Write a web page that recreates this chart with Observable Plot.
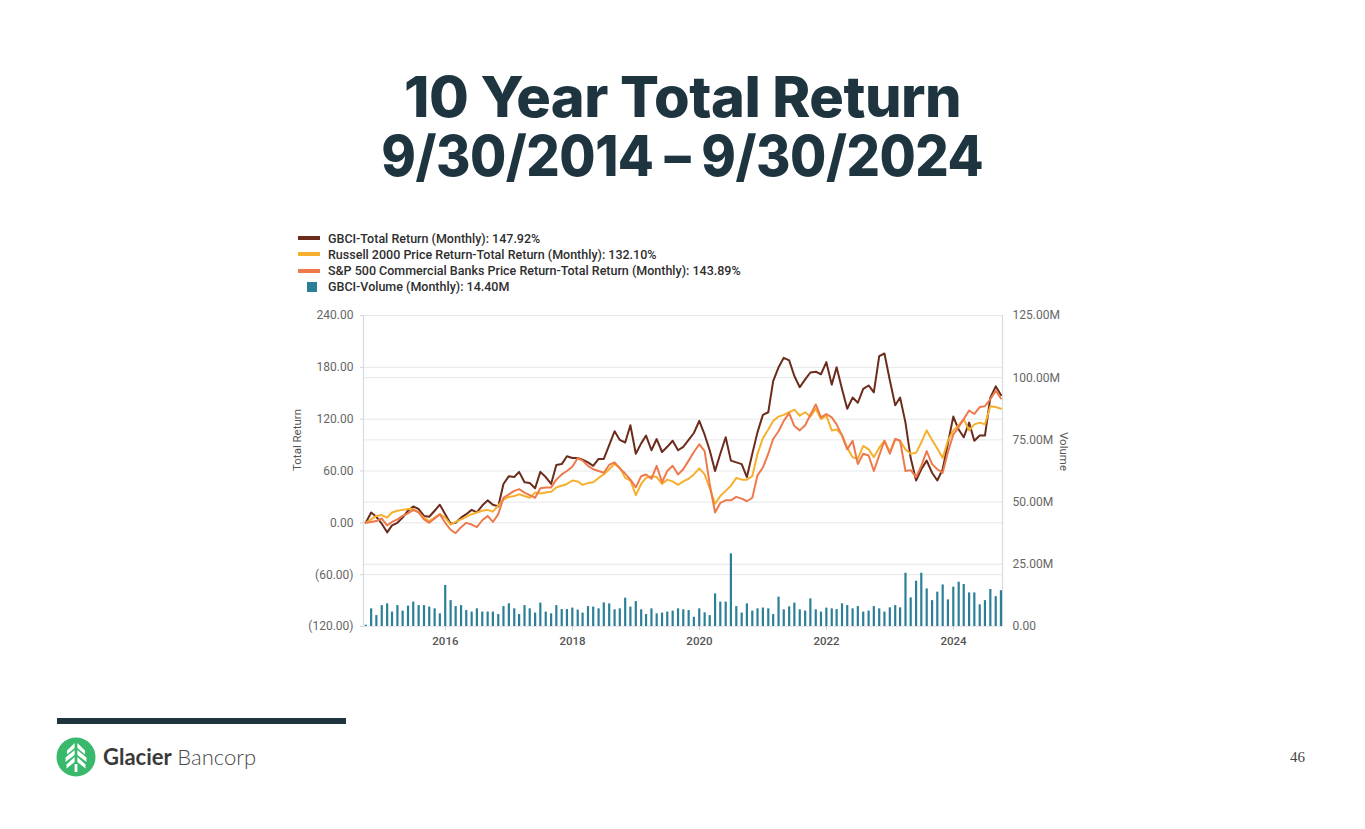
<!DOCTYPE html>
<html>
<head>
<meta charset="utf-8">
<script src="https://cdn.jsdelivr.net/npm/d3@7"></script>
<script src="https://cdn.jsdelivr.net/npm/@observablehq/plot@0.6"></script>
<style>
  html, body { margin: 0; padding: 0; background: #ffffff; }
  body { width: 1365px; height: 829px; position: relative; overflow: hidden; font-family: Roboto, sans-serif; }
  .title { position: absolute; left: 0; width: 1365px; text-align: center; font-family: Inter, sans-serif;
           font-weight: 800; color: #1e3540; font-size: 56px; line-height: 44px; height: 44px; white-space: nowrap; letter-spacing: -0.5px; }
  .title span { display: inline-block; transform-origin: 50% 50%; line-height: 44px; height: 44px; }
  #legend { position: absolute; left: 298px; top: 230px; font-family: Roboto, sans-serif; font-weight: 500; font-size: 12.5px; color: #2e2e2e; }
  .lrow { position: absolute; left: 0; height: 16px; display: flex; align-items: center; white-space: nowrap; }
  .sw-line { width: 22px; height: 4px; margin-right: 8px; }
  .sw-box { width: 10px; height: 10px; margin-left: 9px; margin-right: 11px; }
  #chart { position: absolute; left: 280px; top: 300px; }
  #footbar { position: absolute; left: 57px; top: 718px; width: 289px; height: 6px; background: #1e3540; }
  #logo { position: absolute; left: 56px; top: 737px; }
  #brand { position: absolute; left: 103px; top: 744px; font-family: Lato, sans-serif; font-size: 22px; line-height: 26px; white-space: nowrap; }
  #brand b { font-weight: 700; color: #3a3a3a; }
  #brand span { font-weight: 300; color: #4a4a4a; }
  #page { position: absolute; left: 1290px; top: 749px; font-family: "Liberation Serif", serif; font-size: 15px; color: #444; }
</style>
</head>
<body>
<div class="title" style="top:75px"><span data-w="557">10 Year Total Return</span></div>
<div class="title" style="top:134px"><span data-w="602">9/30/2014 – 9/30/2024</span></div>

<div id="legend"></div>
<div id="chart"></div>

<div id="footbar"></div>
<svg id="logo" width="40" height="40" viewBox="0 0 40 40">
  <circle cx="20" cy="20" r="19.5" fill="#38b96b"/>
  <g fill="#ffffff">
    <polygon points="18.6,6 18.6,11 11,17.5 11,13.5"/>
    <polygon points="21.4,6 21.4,11 29,17.5 29,13.5"/>
    <polygon points="18.6,13 18.6,18 9.5,25 9.5,20.5"/>
    <polygon points="21.4,13 21.4,18 30.5,25 30.5,20.5"/>
    <polygon points="18.6,20 18.6,25 10.5,31.5 10.5,27.5"/>
    <polygon points="21.4,20 21.4,25 29.5,31.5 29.5,27.5"/>
    <rect x="18.6" y="27" width="2.8" height="8"/>
  </g>
</svg>
<div id="brand"><b>Glacier</b> <span>Bancorp</span></div>
<div id="page">46</div>

<script>
// ---------------- DATA (monthly, 9/30/2014 .. 9/30/2024) ----------------
const seriesNames = [
  "GBCI-Total Return (Monthly)",
  "Russell 2000 Price Return-Total Return (Monthly)",
  "S&P 500 Commercial Banks Price Return-Total Return (Monthly)",
  "GBCI-Volume (Monthly)"
];
const seriesColors = ["#6b2c1c", "#f6b02e", "#ee7a4c", "#2b7f97"];

// GBCI total return (%)
const gbci = [
  0, 12, 7, -1, -11, -3, 0, 6, 14, 19, 16, 8, 7, 14, 21, 10, -1, 0, 6, 10,
  15, 12, 20, 26, 21, 19, 45, 54, 53, 59, 47, 46, 40, 59, 53, 45, 67, 68, 77, 75,
  75, 73, 70, 66, 74, 74, 90, 106, 96, 93, 113, 80, 92, 101, 84, 97, 82, 88, 95, 84,
  88, 96, 104, 118, 102, 84, 60, 80, 99, 72, 70, 68, 53, 80, 105, 125, 128, 164, 180, 191,
  188, 170, 157, 166, 174, 175, 172, 186, 160, 180, 155, 132, 145, 139, 155, 159, 151, 193, 196, 165,
  136, 145, 116, 75, 49, 62, 72, 58, 49, 62, 92, 123, 108, 99, 116, 95, 101, 101, 145, 158,
  147.92
];
// Russell 2000 total return (%)
const russell = [
  0, 4, 8, 9, 6, 12, 14, 15, 16, 16, 12, 6, 2, 6, 10, 6, -2, 1, 4, 7,
  10, 12, 14, 15, 13, 20, 27, 30, 31, 33, 31, 29, 35, 34, 35, 36, 41, 43, 45, 49,
  48, 44, 46, 47, 52, 56, 62, 68, 64, 52, 49, 32, 45, 52, 54, 53, 45, 50, 48, 44,
  48, 51, 56, 63, 56, 40, 22, 31, 37, 43, 52, 50, 50, 54, 80, 98, 108, 118, 123, 125,
  128, 131, 124, 128, 123, 132, 120, 124, 107, 108, 102, 87, 76, 74, 89, 85, 76, 87, 95, 82,
  97, 95, 85, 80, 81, 93, 107, 96, 86, 75, 95, 107, 113, 120, 107, 114, 116, 114, 135, 134,
  132.10
];
// S&P 500 Commercial Banks total return (%)
const banks = [
  0, 1, 2, 5, -3, 1, 4, 8, 11, 15, 12, 4, 0, 5, 10, 0, -8, -12, -5, 0,
  -2, -5, 3, 8, 1, 10, 29, 33, 37, 39, 35, 32, 29, 40, 41, 41, 50, 56, 60, 65,
  75, 72, 66, 62, 60, 58, 67, 70, 63, 57, 50, 41, 54, 56, 51, 66, 47, 60, 66, 56,
  62, 72, 82, 91, 83, 45, 12, 23, 26, 26, 30, 28, 25, 29, 55, 64, 80, 97, 106, 118,
  127, 112, 107, 113, 125, 137, 122, 126, 122, 114, 101, 85, 95, 68, 80, 78, 60, 78, 95, 80,
  97, 95, 60, 61, 53, 66, 83, 68, 62, 58, 82, 102, 111, 120, 130, 126, 134, 135, 143, 153,
  143.89
];
// GBCI monthly volume (millions of shares)
const volume = [
  0.5, 7.1, 4.4, 8.4, 9.1, 5.8, 8.4, 6.2, 8.2, 9.8, 8.4, 8.4, 7.8, 7.1, 5.1, 16.5, 10.4, 8.0, 8.4, 6.4,
  5.8, 7.1, 5.8, 5.8, 5.8, 4.8, 8.0, 9.1, 7.1, 4.8, 8.4, 7.1, 5.4, 9.4, 5.8, 5.1, 8.4, 6.8, 6.8, 7.4,
  6.6, 5.4, 8.0, 7.8, 7.1, 9.5, 9.1, 6.7, 7.1, 11.4, 7.8, 10.0, 6.7, 4.8, 7.1, 5.1, 5.4, 5.8, 6.2, 7.1,
  6.7, 6.4, 3.7, 7.1, 5.5, 4.4, 13.1, 9.8, 9.8, 29.2, 8.0, 5.4, 9.1, 6.2, 7.1, 7.4, 7.1, 4.8, 11.8, 6.7,
  7.9, 9.4, 6.7, 6.2, 11.1, 6.7, 5.8, 7.4, 7.1, 6.8, 9.1, 8.4, 7.1, 8.0, 5.8, 6.2, 8.0, 7.1, 5.8, 7.5,
  8.4, 7.5, 21.4, 11.5, 18.2, 21.4, 15.1, 10.4, 13.8, 16.7, 10.7, 15.8, 17.8, 16.9, 13.5, 13.5, 8.7, 10.4, 14.9, 12.0,
  14.40
];

// Axis ticks / labels
const leftTicks = [-120, -60, 0, 60, 120, 180, 240];
const volTicks = [0, 25, 50, 75, 100, 125];      // millions
const xTickYears = [2016, 2018, 2020, 2022, 2024];

// ---------------- BUILD ----------------
const dates = gbci.map((_, i) => new Date(Date.UTC(2014, 9 + i, 0)));  // month ends
const rows = dates.map((date, i) => ({date, gbci: gbci[i], russell: russell[i], banks: banks[i], vol: volume[i]}));

const yMin = leftTicks[0], yMax = leftTicks[leftTicks.length - 1];
const volMax = volTicks[volTicks.length - 1];
const volToY = v => yMin + v * (yMax - yMin) / volMax;   // secondary axis mapping
const yToVol = y => (y - yMin) * volMax / (yMax - yMin);

const xDomain = [new Date(Date.UTC(2014, 8, 17)), new Date(Date.UTC(2024, 9, 9))];
const xTicks = xTickYears.map(y => new Date(Date.UTC(y, 0, 1)));

const fmtLeft = v => v < 0 ? `(${Math.abs(v).toFixed(2)})` : v.toFixed(2);
const fmtRight = y => { const v = Math.round(yToVol(y) * 100) / 100; return v === 0 ? "0.00" : v.toFixed(2) + "M"; };

const grid = "#e6e7e9";
const chart = Plot.plot({
  width: 812,
  height: 356,
  marginLeft: 83,
  marginRight: 90,
  marginTop: 15,
  marginBottom: 30,
  style: {fontFamily: "Roboto, sans-serif", fontSize: "12px", color: "#666", background: "transparent"},
  x: {type: "utc", domain: xDomain},
  y: {domain: [yMin, yMax]},
  marks: [
    Plot.gridY(leftTicks, {stroke: grid, strokeOpacity: 1}),
    Plot.gridY(volTicks.map(volToY), {stroke: grid, strokeOpacity: 1}),
    Plot.ruleX(xDomain, {stroke: "#d4dbe3", strokeWidth: 1.2}),
    Plot.axisY(leftTicks, {anchor: "left", tickFormat: fmtLeft, tickSize: 3, tickPadding: 7, stroke: "#cfd4da", fill: "#666", label: null}),
    Plot.axisY(volTicks.map(volToY), {anchor: "right", tickFormat: fmtRight, tickSize: 0, tickPadding: 10, fill: "#666", label: null}),
    Plot.axisX(xTicks, {tickFormat: "%Y", tickSize: 4, tickPadding: 6, stroke: "#cfd4da", fill: "#555", fontWeight: 500, fontSize: 11.5, label: null}),
    Plot.ruleX(rows, {x: "date", y1: yMin, y2: d => volToY(d.vol), stroke: seriesColors[3], strokeWidth: 2.2}),
    Plot.lineY(rows, {x: "date", y: "gbci", stroke: seriesColors[0], strokeWidth: 2}),
    Plot.lineY(rows, {x: "date", y: "russell", stroke: seriesColors[1], strokeWidth: 2}),
    Plot.lineY(rows, {x: "date", y: "banks", stroke: seriesColors[2], strokeWidth: 2}),
    Plot.text(["Total Return"], {frameAnchor: "left", text: d => d, dx: -66, rotate: -90, fill: "#555", fontSize: 11.5}),
    Plot.text(["Volume"], {frameAnchor: "right", text: d => d, dx: 61, rotate: 90, fill: "#555", fontSize: 11.5})
  ]
});
document.getElementById("chart").appendChild(chart);

// Legend
const lastVals = [gbci, russell, banks].map(a => a[a.length - 1]);
const legend = document.getElementById("legend");
seriesNames.forEach((name, i) => {
  const row = document.createElement("div");
  row.className = "lrow";
  row.style.top = (i * 16.3) + "px";
  const sw = document.createElement("span");
  sw.className = i < 3 ? "sw-line" : "sw-box";
  sw.style.background = seriesColors[i];
  row.appendChild(sw);
  const label = i < 3 ? `${name}: ${lastVals[i].toFixed(2)}%` : `${name}: ${volume[volume.length - 1].toFixed(2)}M`;
  row.appendChild(document.createTextNode(label));
  legend.appendChild(row);
});

// Fit each title line to its reference width
document.querySelectorAll(".title span").forEach(s => {
  const target = +s.dataset.w;
  const w = s.getBoundingClientRect().width;
  if (w > 0) s.style.transform = `scaleX(${target / w})`;
});
</script>
</body>
</html>
